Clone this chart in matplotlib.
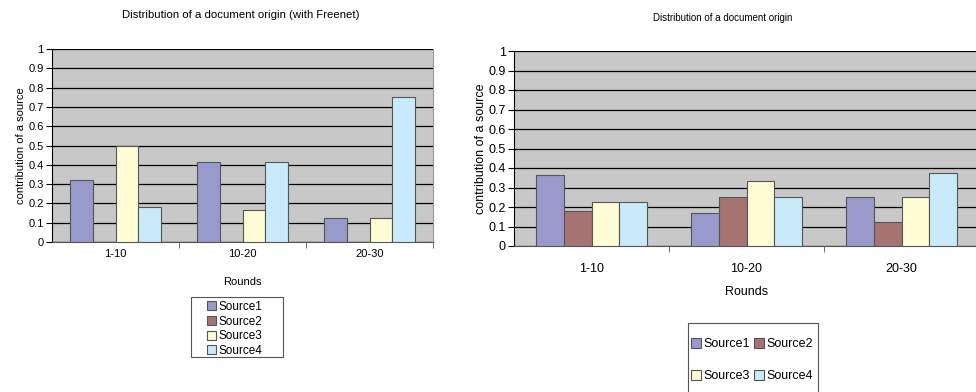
import numpy as np
import matplotlib.pyplot as plt
from matplotlib.patches import Rectangle

plt.rcParams['font.family'] = ['Liberation Sans', 'DejaVu Sans']

rounds = ['1-10', '10-20', '20-30']
sources = ['Source1', 'Source2', 'Source3', 'Source4']
colors = ['#9999CC', '#A67373', '#FFFCD6', '#C8EAFB']

# with Freenet
freenet_s1 = [0.32, 0.417, 0.125]
freenet_s2 = [0.0, 0.0, 0.0]
freenet_s3 = [0.5, 0.167, 0.125]
freenet_s4 = [0.18, 0.417, 0.75]

# without
plain_s1 = [0.364, 0.167, 0.25]
plain_s2 = [0.182, 0.25, 0.125]
plain_s3 = [0.227, 0.333, 0.25]
plain_s4 = [0.227, 0.25, 0.375]

W, H = 976, 392


def draw(ax, series, fs, tick_pad, xlabel_pad, ylabel_pad):
    x = np.arange(len(rounds))
    w = 0.18
    bars = []
    for i, vals in enumerate(series):
        b = ax.bar(x + (i - 1.5) * w, vals, w, color=colors[i],
                   edgecolor='#555555', linewidth=0.8, zorder=3)
        bars.append(b)
    ax.set_facecolor('#C8C8C8')
    ax.set_xlim(-0.5, 2.5)
    ax.set_ylim(0, 1)
    ax.set_yticks(np.arange(0, 1.01, 0.1))
    ax.set_yticklabels(['0', '0.1', '0.2', '0.3', '0.4', '0.5', '0.6', '0.7', '0.8', '0.9', '1'],
                       fontsize=fs)
    ax.yaxis.grid(True, color='black', linewidth=0.9, zorder=1)
    ax.set_axisbelow(True)
    ax.set_xticks(x)
    ax.set_xticklabels(rounds, fontsize=fs)
    ax.set_xticks([0.5, 1.5, 2.5], minor=True)
    ax.tick_params(axis='x', which='major', length=0, pad=tick_pad)
    ax.tick_params(axis='x', which='minor', length=4, color='#555555')
    ax.tick_params(axis='y', length=4, pad=2, color='black')
    ax.spines['left'].set_color('black')
    ax.spines['bottom'].set_color('#555555')
    ax.spines['top'].set_visible(False)
    ax.spines['right'].set_color('#999999')
    ax.set_ylabel('contribution of a source', fontsize=fs, labelpad=ylabel_pad)
    ax.set_xlabel('Rounds', fontsize=fs, labelpad=xlabel_pad)
    return bars


def box(x0, y0, x1, y1):
    # frame given in pixels from the top left
    r = Rectangle((x0 / W, 1 - y1 / H), (x1 - x0) / W, (y1 - y0) / H,
                  transform=fig.transFigure, facecolor='white',
                  edgecolor='#555555', linewidth=0.8, zorder=0)
    fig.add_artist(r)


fig = plt.figure(figsize=(W / 100, H / 100), dpi=100)

ax1 = fig.add_axes([52 / W, 1 - 242 / H, 381 / W, 193 / H])
bars1 = draw(ax1, [freenet_s1, freenet_s2, freenet_s3, freenet_s4], 8, 5, 13, 2)
fig.text(241 / W, 1 - 15 / H, 'Distribution of a document origin (with Freenet)',
         ha='center', va='center', fontsize=8.2)
box(191, 297, 283, 357)
fig.legend(bars1, sources, loc='upper left',
           bbox_to_anchor=(207 / W, 1 - 301 / H), fontsize=8.5,
           frameon=False, handlelength=0.8, handleheight=0.8, handletextpad=0.2,
           labelspacing=0.22, borderpad=0.0, borderaxespad=0)

ax2 = fig.add_axes([514 / W, 1 - 246 / H, 465 / W, 195 / H])
bars2 = draw(ax2, [plain_s1, plain_s2, plain_s3, plain_s4], 9, 12, 8, 1)
ax2.spines['right'].set_visible(False)
fig.text(723 / W, 1 - 18 / H, 'Distribution of a document origin',
         ha='center', va='center', fontsize=7)
box(688, 323, 818, 400)
# two columns, filled row by row
order = [0, 2, 1, 3]
fig.legend([bars2[i] for i in order], [sources[i] for i in order],
           loc='upper left', ncol=2,
           bbox_to_anchor=(691 / W, 1 - 338 / H), fontsize=9,
           frameon=False, handlelength=0.8, handleheight=0.8, handletextpad=0.2,
           columnspacing=0.3, labelspacing=1.6, borderpad=0.0, borderaxespad=0)

fig.savefig('out.png', dpi=100)
